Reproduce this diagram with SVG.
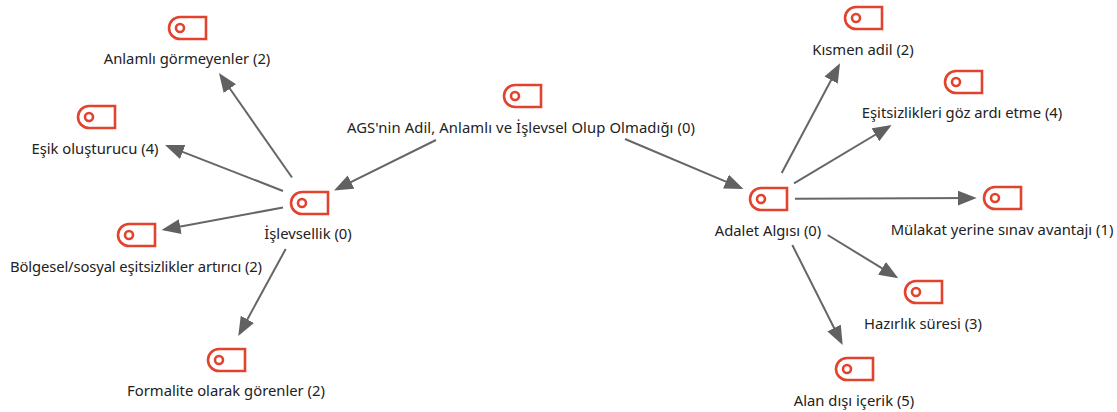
<svg xmlns="http://www.w3.org/2000/svg" width="1117" height="412" viewBox="0 0 1117 412">
<style>
text{font-family:"Noto Sans","Open Sans","Liberation Sans",sans-serif;font-size:14.8px;fill:#222;text-anchor:middle}
.c{stroke:#666;stroke-width:2;fill:none;marker-end:url(#a)}
.i{stroke:#e2432e;stroke-width:2.6;fill:none}
</style>
<defs>
<marker id="a" markerUnits="userSpaceOnUse" markerWidth="20" markerHeight="16" refX="16" refY="7.5" orient="auto"><path d="M0 0L19 7.5L0 15Z" fill="#616161"/></marker>
<g id="t"><path class="i" d="M37 0H11a11 11 0 0 0 0 22H37Z"/><circle class="i" cx="11" cy="11" r="4"/></g>
</defs>
<rect width="1117" height="412" fill="#fff"/>
<g id="connectors">
<path class="c" d="M436 140L336.7 189.2"/>
<path class="c" d="M625 139L740.7 187.8"/>
<path class="c" d="M292 177.5L220.7 75.5"/>
<path class="c" d="M283 191L167.8 146.1"/>
<path class="c" d="M283 207.5L164.5 229.5"/>
<path class="c" d="M285.7 249L239.7 333.4"/>
<path class="c" d="M781.7 173L838.6 66"/>
<path class="c" d="M794 183.3L889.1 126.5"/>
<path class="c" d="M795 198.7L973.7 198"/>
<path class="c" d="M827.7 235L895.7 276.7"/>
<path class="c" d="M792.3 245L841.3 342.3"/>
</g>
<g id="n0"><use href="#t" x="504" y="85"/><text x="521" y="133" textLength="348">AGS'nin Adil, Anlamlı ve İşlevsel Olup Olmadığı (0)</text></g>
<g id="n1"><use href="#t" x="291" y="192"/><text x="308" y="239">İşlevsellik (0)</text></g>
<g id="n2"><use href="#t" x="750" y="188"/><text x="768" y="236">Adalet Algısı (0)</text></g>
<g id="n3"><use href="#t" x="169" y="17"/><text x="187" y="64">Anlamlı görmeyenler (2)</text></g>
<g id="n4"><use href="#t" x="78" y="106"/><text x="95" y="154">Eşik oluşturucu (4)</text></g>
<g id="n5"><use href="#t" x="118" y="224"/><text x="136" y="272" textLength="252">Bölgesel/sosyal eşitsizlikler artırıcı (2)</text></g>
<g id="n6"><use href="#t" x="208" y="349"/><text x="226" y="396">Formalite olarak görenler (2)</text></g>
<g id="n7"><use href="#t" x="845" y="7"/><text x="863" y="55">Kısmen adil (2)</text></g>
<g id="n8"><use href="#t" x="945" y="71"/><text x="962" y="118">Eşitsizlikleri göz ardı etme (4)</text></g>
<g id="n9"><use href="#t" x="984" y="187"/><text x="1002" y="235">Mülakat yerine sınav avantajı (1)</text></g>
<g id="n10"><use href="#t" x="905" y="281"/><text x="923" y="329">Hazırlık süresi (3)</text></g>
<g id="n11"><use href="#t" x="836" y="358"/><text x="854" y="406">Alan dışı içerik (5)</text></g>
</svg>
